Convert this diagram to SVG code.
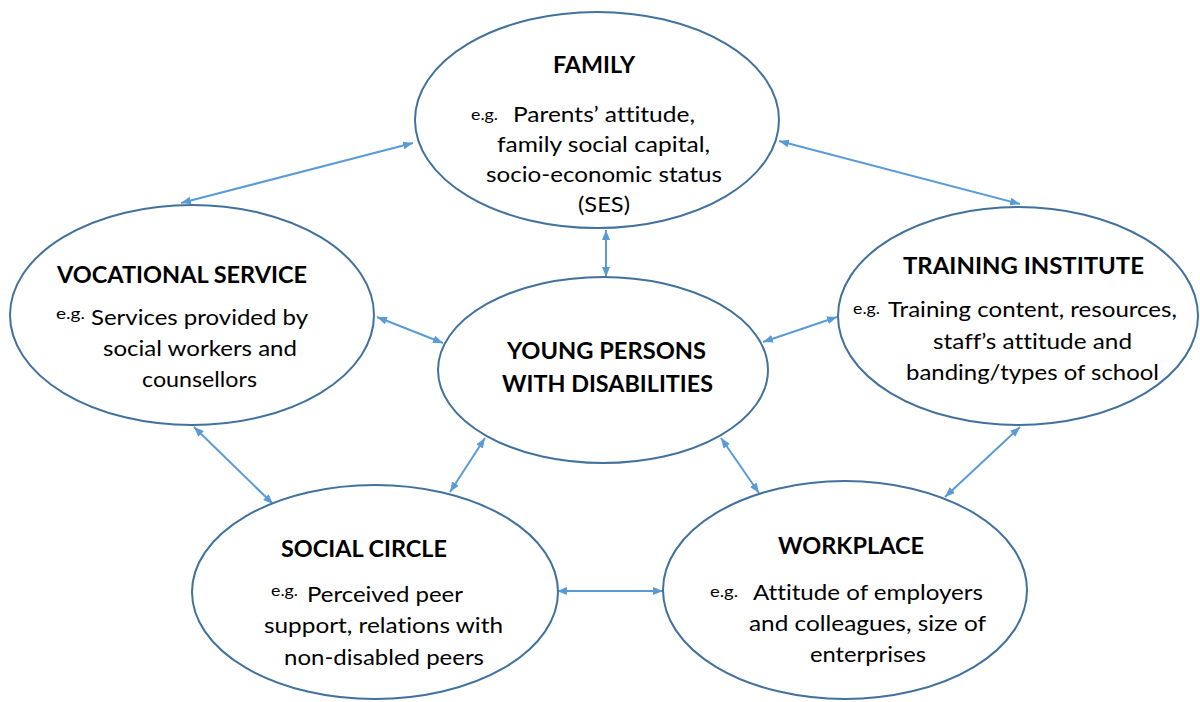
<svg xmlns="http://www.w3.org/2000/svg" width="1200" height="702" viewBox="0 0 1200 702">
  <style>
    .node ellipse { fill: #ffffff; stroke: #41719C; stroke-width: 2; }
    text { font-family: Lato, "Liberation Sans", sans-serif; fill: #000000; font-variant-ligatures: none; }
    .title { font-weight: bold; font-size: 23.5px; }
    .body { font-size: 22px; }
    .eg { font-size: 15.5px; }
    .link { stroke: #5B9BD5; stroke-width: 2; fill: none; marker-start: url(#tip); marker-end: url(#tip); }
  </style>
  <defs>
    <marker id="tip" viewBox="0 0 10 8" refX="10" refY="4" markerWidth="10" markerHeight="8" markerUnits="userSpaceOnUse" orient="auto-start-reverse">
      <path d="M0,0 L10,4 L0,8 z" fill="#5B9BD5"/>
    </marker>
  </defs>
  <rect width="1200" height="702" fill="#ffffff"/>

  <!-- connectors -->
  <g id="connectors">
    <line class="link" x1="413" y1="143" x2="181" y2="203"/>
    <line class="link" x1="779" y1="141" x2="1020" y2="204"/>
    <line class="link" x1="606" y1="230" x2="606" y2="277"/>
    <line class="link" x1="377" y1="317" x2="443" y2="343"/>
    <line class="link" x1="763" y1="342" x2="837" y2="317"/>
    <line class="link" x1="194" y1="427" x2="273" y2="504"/>
    <line class="link" x1="450" y1="492" x2="485" y2="438"/>
    <line class="link" x1="721" y1="438" x2="759" y2="493"/>
    <line class="link" x1="1020" y1="427" x2="945" y2="497"/>
    <line class="link" x1="557" y1="591" x2="663" y2="591"/>
  </g>

  <!-- family -->
  <g id="family" class="node">
    <ellipse cx="597" cy="120" rx="182" ry="108"/>
    <text class="title" x="553" y="73" textLength="82" lengthAdjust="spacingAndGlyphs">FAMILY</text>
    <text class="eg" x="471" y="120" textLength="27" lengthAdjust="spacingAndGlyphs">e.g.</text>
    <text class="body" x="513" y="122" textLength="182" lengthAdjust="spacingAndGlyphs">Parents’ attitude,</text>
    <text class="body" x="497" y="152" textLength="213" lengthAdjust="spacingAndGlyphs">family social capital,</text>
    <text class="body" x="486" y="182" textLength="236" lengthAdjust="spacingAndGlyphs">socio-economic status</text>
    <text class="body" x="578" y="212" textLength="52" lengthAdjust="spacingAndGlyphs">(SES)</text>
  </g>

  <!-- vocational service -->
  <g id="vocational-service" class="node">
    <ellipse cx="192" cy="315" rx="182" ry="110"/>
    <text class="title" x="57" y="283" textLength="250" lengthAdjust="spacingAndGlyphs">VOCATIONAL SERVICE</text>
    <text class="eg" x="56" y="319" textLength="29" lengthAdjust="spacingAndGlyphs">e.g.</text>
    <text class="body" x="91" y="325" textLength="217" lengthAdjust="spacingAndGlyphs">Services provided by</text>
    <text class="body" x="103" y="356" textLength="194" lengthAdjust="spacingAndGlyphs">social workers and</text>
    <text class="body" x="142" y="387" textLength="115" lengthAdjust="spacingAndGlyphs">counsellors</text>
  </g>

  <!-- training institute -->
  <g id="training-institute" class="node">
    <ellipse cx="1018" cy="316" rx="180" ry="109"/>
    <text class="title" x="903" y="274" textLength="241" lengthAdjust="spacingAndGlyphs">TRAINING INSTITUTE</text>
    <text class="eg" x="853" y="314" textLength="27" lengthAdjust="spacingAndGlyphs">e.g.</text>
    <text class="body" x="888" y="317" textLength="289" lengthAdjust="spacingAndGlyphs">Training content, resources,</text>
    <text class="body" x="933" y="349" textLength="199" lengthAdjust="spacingAndGlyphs">staff’s attitude and</text>
    <text class="body" x="906" y="380" textLength="253" lengthAdjust="spacingAndGlyphs">banding/types of school</text>
  </g>

  <!-- young persons with disabilities -->
  <g id="young-persons" class="node">
    <ellipse cx="603" cy="370" rx="165" ry="93"/>
    <text class="title" x="507" y="359" textLength="199" lengthAdjust="spacingAndGlyphs">YOUNG PERSONS</text>
    <text class="title" x="502" y="392" textLength="211" lengthAdjust="spacingAndGlyphs">WITH DISABILITIES</text>
  </g>

  <!-- social circle -->
  <g id="social-circle" class="node">
    <ellipse cx="375" cy="592" rx="183" ry="107"/>
    <text class="title" x="281" y="557" textLength="166" lengthAdjust="spacingAndGlyphs">SOCIAL CIRCLE</text>
    <text class="eg" x="271" y="596" textLength="27" lengthAdjust="spacingAndGlyphs">e.g.</text>
    <text class="body" x="307" y="602" textLength="156" lengthAdjust="spacingAndGlyphs">Perceived peer</text>
    <text class="body" x="264" y="633" textLength="239" lengthAdjust="spacingAndGlyphs">support, relations with</text>
    <text class="body" x="284" y="665" textLength="200" lengthAdjust="spacingAndGlyphs">non-disabled peers</text>
  </g>

  <!-- workplace -->
  <g id="workplace" class="node">
    <ellipse cx="845" cy="590" rx="182" ry="109"/>
    <text class="title" x="778" y="554" textLength="146" lengthAdjust="spacingAndGlyphs">WORKPLACE</text>
    <text class="eg" x="710" y="597" textLength="28" lengthAdjust="spacingAndGlyphs">e.g.</text>
    <text class="body" x="753" y="600" textLength="230" lengthAdjust="spacingAndGlyphs">Attitude of employers</text>
    <text class="body" x="749" y="631" textLength="237" lengthAdjust="spacingAndGlyphs">and colleagues, size of</text>
    <text class="body" x="810" y="662" textLength="116" lengthAdjust="spacingAndGlyphs">enterprises</text>
  </g>
</svg>
